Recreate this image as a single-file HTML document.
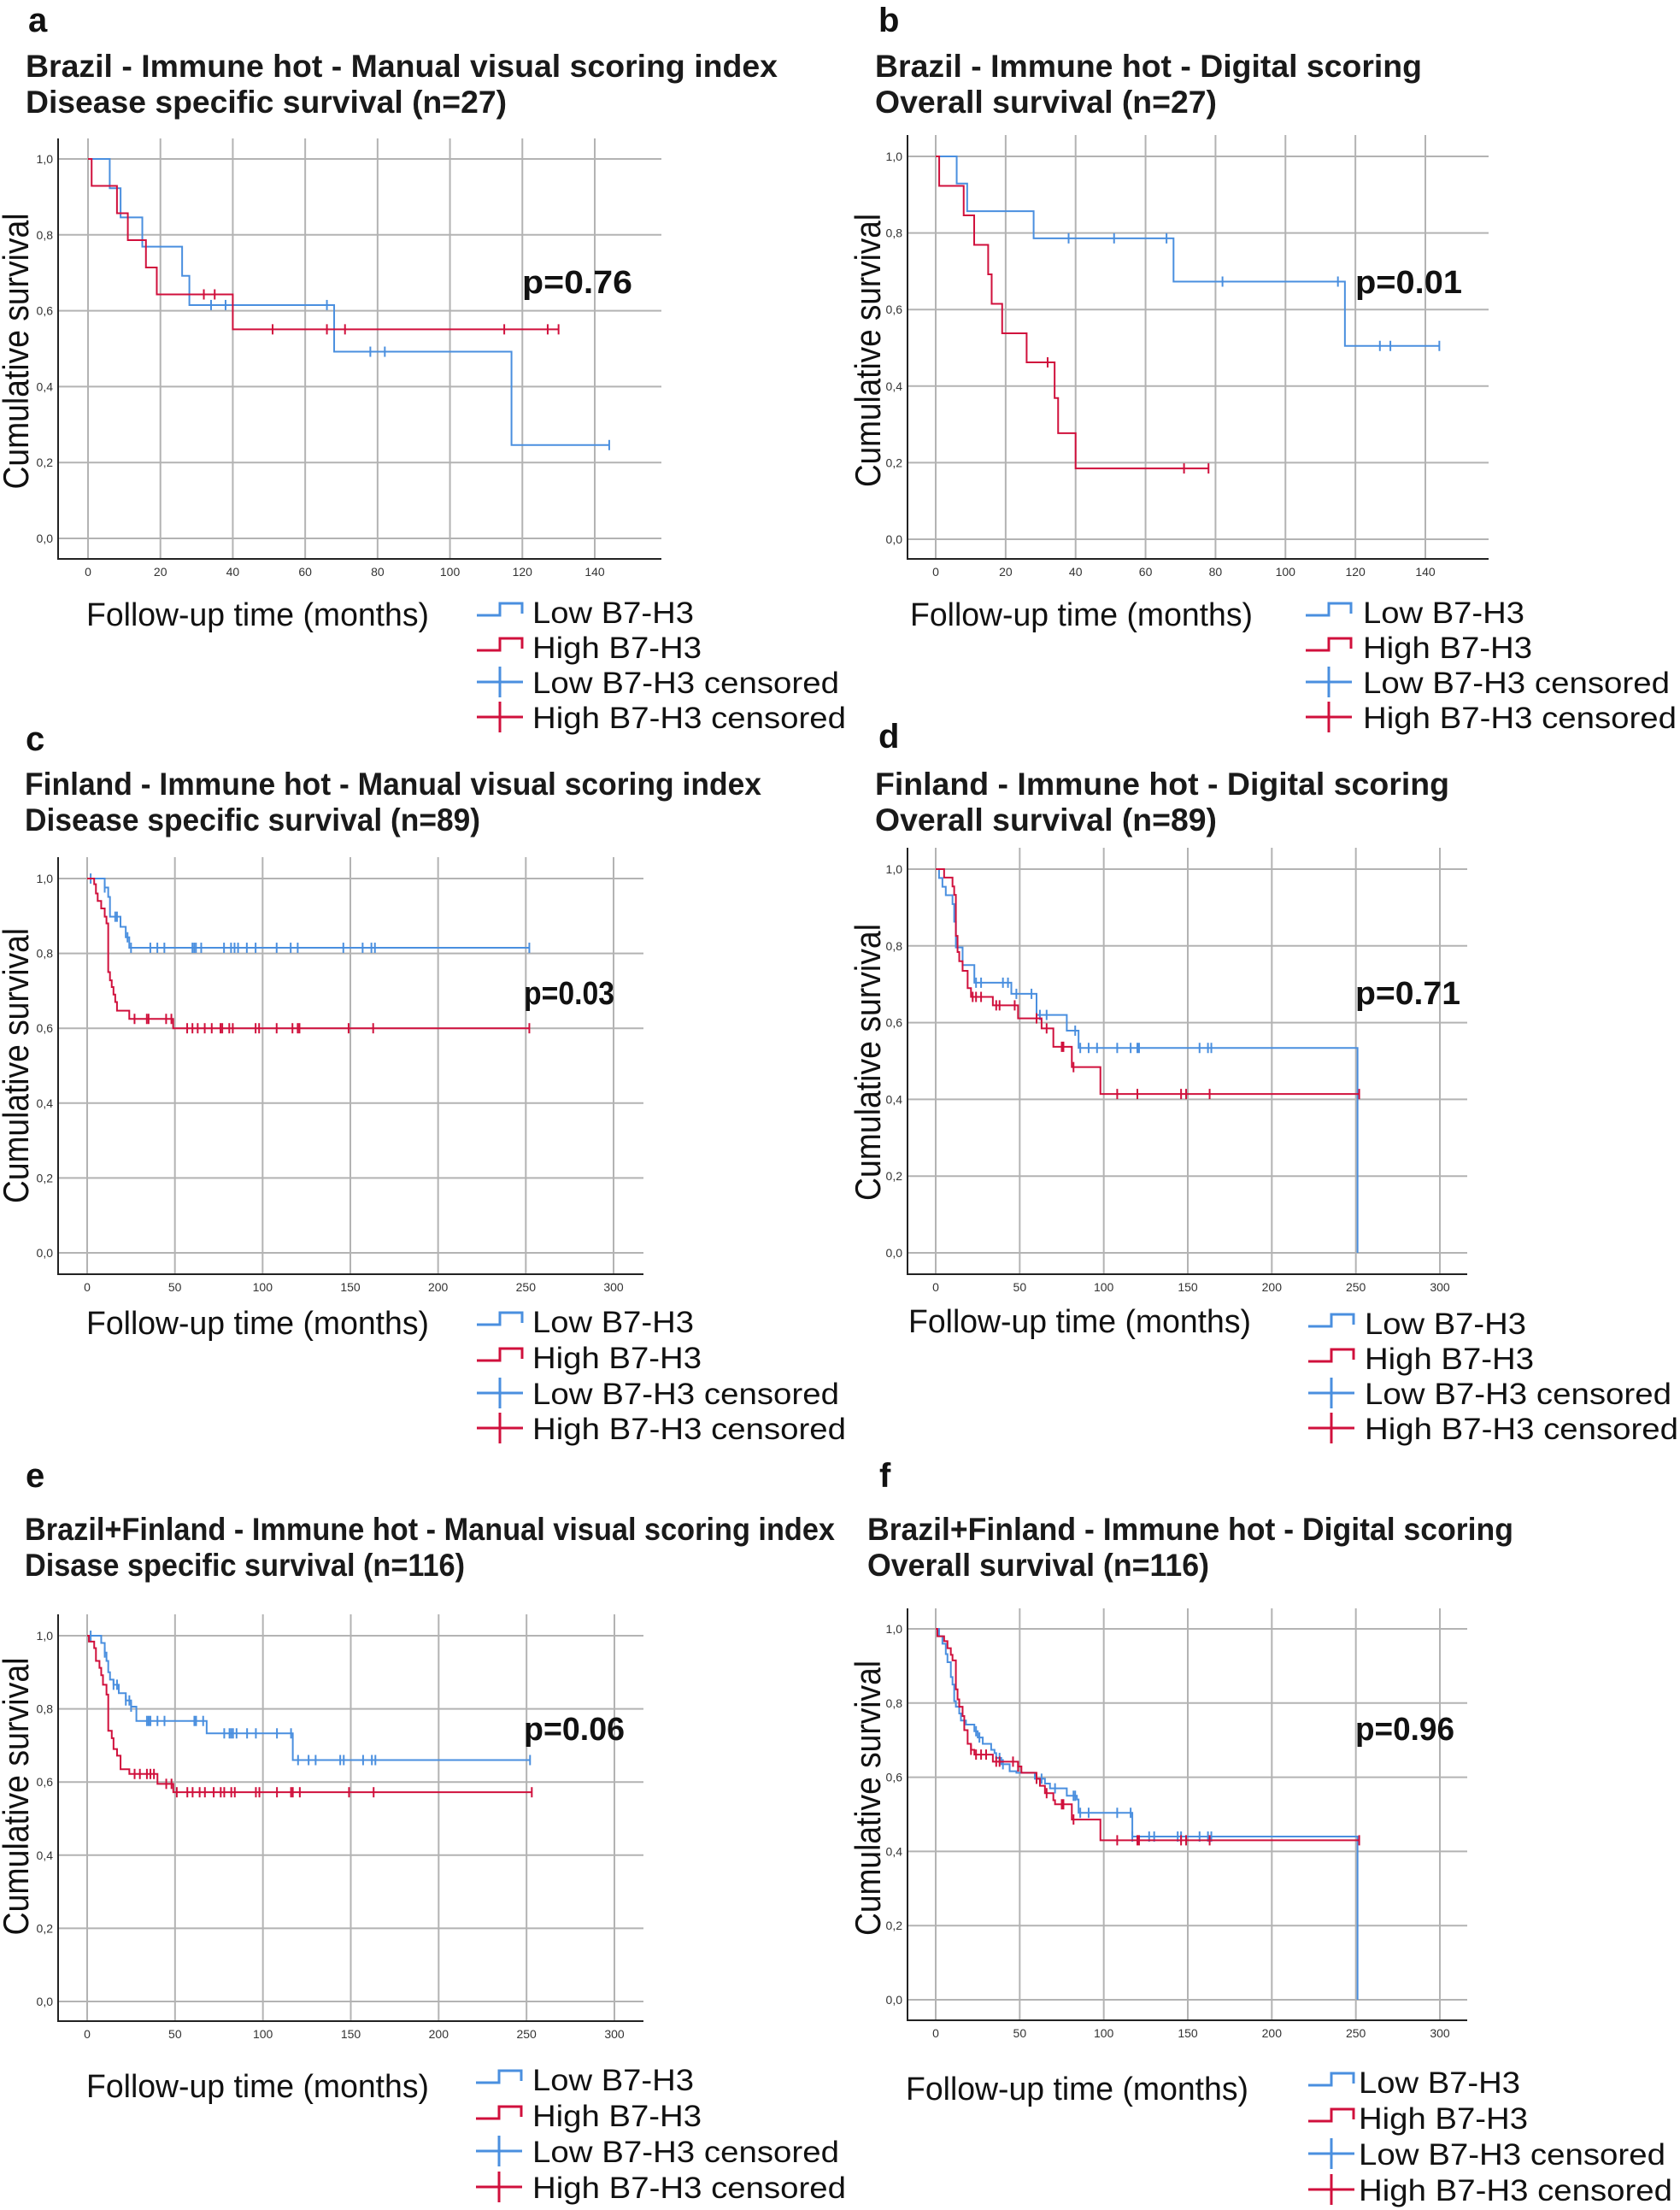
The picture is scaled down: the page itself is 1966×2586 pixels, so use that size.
<!DOCTYPE html>
<html><head><meta charset="utf-8"><style>
html,body{margin:0;padding:0;background:#fff;}
svg{display:block;}
text{font-family:"Liberation Sans",sans-serif;}
</style></head>
<body>
<svg id="root" width="1966" height="2586" viewBox="0 0 1966 2586" xmlns="http://www.w3.org/2000/svg"></svg>
<script>
// ---------- DATA (event times, survival after event, censored times) ----------
// Panel a
const aLowT=[6,9,15,26,28,68,117];
const aLowS=[0.923,0.846,0.769,0.692,0.615,0.492,0.246];
const aLowC=[34,38,66,78,82,144];
const aHighT=[1,8,11,16,19,40];
const aHighS=[0.929,0.857,0.786,0.714,0.643,0.551];
const aHighC=[32,35,51,66,71,115,127,130];
const aP="p=0.76";
// Panel b
const bLowT=[6,9,28,68,117];
const bLowS=[0.929,0.857,0.786,0.673,0.505];
const bLowC=[38,51,66,82,115,127,130,144];
const bHighT=[1,8,11,15,16,19,26,34,35,40];
const bHighS=[0.923,0.846,0.769,0.692,0.615,0.538,0.462,0.369,0.277,0.185];
const bHighC=[32,71,78];
const bP="p=0.01";
// Panel c
const cLowT=[10,12,13,19,22,24];
const cLowS=[0.976,0.951,0.898,0.871,0.843,0.815];
const cLowC=[2,10,16,17,23,25,36,40,44,60,61,62,65,78,82,84,86,91,96,108,116,120,146,157,162,164,252];
const cHighT=[4,5,6,8,10,11,12,13,14,15,16,17,24,49];
const cHighS=[0.985,0.96,0.94,0.92,0.898,0.88,0.75,0.728,0.71,0.69,0.67,0.647,0.625,0.6];
const cHighC=[27,34,35,45,48,57,60,63,67,71,76,77,81,83,96,98,108,117,120,121,149,163,252];
const cP="p=0.03";
// Panel d
const dLowT=[2,4,6,10,11,12,16,23,45,60,78,85,251];
const dLowS=[0.977,0.954,0.932,0.909,0.863,0.796,0.75,0.704,0.675,0.62,0.579,0.534,0];
const dLowC=[24,27,40,43,48,57,62,66,83,86,91,96,108,116,120,121,157,162,164];
const dHighT=[5,10,11,12,13,14,16,19,21,34,49,63,70,81,98];
const dHighS=[0.978,0.955,0.933,0.826,0.784,0.76,0.735,0.69,0.667,0.645,0.611,0.585,0.537,0.484,0.414];
const dHighC=[22,24,27,36,38,47,60,66,75,76,82,108,120,146,149,163,252];
const dP="p=0.71";
// Panel e
const eLowT=[8,10,11,12,13,15,18,22,25,28,68,117];
const eLowS=[0.98,0.954,0.931,0.9,0.88,0.866,0.843,0.823,0.806,0.767,0.733,0.66];
const eLowC=[2,10,15,17,22,24,25,34,35,36,40,44,61,62,66,78,81,82,83,85,91,96,108,116,120,126,130,144,146,157,162,164,252];
const eHighT=[1,4,5,7,8,9,11,12,14,15,17,19,24,40,49];
const eHighS=[0.984,0.966,0.931,0.912,0.892,0.866,0.839,0.74,0.72,0.69,0.672,0.635,0.622,0.595,0.572];
const eHighC=[27,30,34,36,38,45,48,51,57,60,64,67,72,76,78,82,84,96,98,108,116,117,121,149,163,253];
const eP="p=0.06";
// Panel f
const fLowT=[2,4,6,7,9,10,11,12,14,15,18,23,25,28,33,35,36,39,44,48,59,65,68,78,84,85,117,251];
const fLowS=[0.98,0.96,0.932,0.91,0.87,0.85,0.805,0.79,0.772,0.753,0.742,0.724,0.707,0.69,0.674,0.665,0.652,0.635,0.616,0.612,0.596,0.583,0.57,0.55,0.54,0.504,0.44,0];
const fLowC=[24,26,38,40,60,63,71,82,83,86,91,108,116,117,127,130,144,146,157,162,164];
const fHighT=[1,5,7,9,10,12,13,14,16,17,19,21,23,34,49,51,60,62,65,70,71,81,98];
const fHighS=[0.98,0.967,0.948,0.93,0.915,0.837,0.81,0.79,0.765,0.727,0.69,0.674,0.661,0.642,0.629,0.612,0.596,0.577,0.557,0.538,0.527,0.486,0.43];
const fHighC=[21,24,27,30,36,38,46,49,60,66,75,76,82,108,120,121,146,149,163,252];
const fP="p=0.96";

const xTicks140=[0,20,40,60,80,100,120,140];
const xTicks300=[0,50,100,150,200,250,300];
const yTicks=[0,0.2,0.4,0.6,0.8,1.0];
const yTickLabels=["0,0","0,2","0,4","0,6","0,8","1,0"];

const NS="http://www.w3.org/2000/svg";
const root=document.getElementById('root');
const BLUE="#4a8fdf", RED="#d0103c", GRID="#b3b3b3";

function mk(tag,attrs,parent){const e=document.createElementNS(NS,tag);for(const k in attrs)e.setAttribute(k,attrs[k]);(parent||root).appendChild(e);return e;}

const panels=[
 {id:"a",low:[aLowT,aLowS,aLowC],high:[aHighT,aHighS,aHighC],p:aP,ticks:xTicks140,xmax:140,
  label:[33,37],title:["Brazil - Immune hot - Manual visual scoring index","Disease specific survival (n=27)"],tx:30,tb:[90,132],tw:[880,563],
  fl:68,top:162,y1:186,y0:630,ab:654,x0:103,xs:(696-103)/140,right:774,
  yt:[33,411,323],pp:[611,343,129],fo:[101,732,401],lg:[558,623,[716,757,798,839]]},
 {id:"b",low:[bLowT,bLowS,bLowC],high:[bHighT,bHighS,bHighC],p:bP,ticks:xTicks140,xmax:140,
  label:[1028,37],title:["Brazil - Immune hot - Digital scoring","Overall survival (n=27)"],tx:1024,tb:[90,132],tw:[640,400],
  fl:1062,top:158,y1:183,y0:631,ab:654,x0:1095,xs:(1668-1095)/140,right:1742,
  yt:[1030,410,320],pp:[1586,343,125],fo:[1065,732,401],lg:[1528,1595,[716,757,798,839]]},
 {id:"c",low:[cLowT,cLowS,cLowC],high:[cHighT,cHighS,cHighC],p:cP,ticks:xTicks300,xmax:300,
  label:[30,878],title:["Finland - Immune hot - Manual visual scoring index","Disease specific survival (n=89)"],tx:29,tb:[930,972],tw:[862,533],
  fl:68,top:1003,y1:1028,y0:1466,ab:1491,x0:102,xs:(718-102)/300,right:753,
  yt:[33,1247,322],pp:[613,1175,106],fo:[101,1561,401],lg:[558,623,[1546,1588,1630,1671]]},
 {id:"d",low:[dLowT,dLowS,dLowC],high:[dHighT,dHighS,dHighC],p:dP,ticks:xTicks300,xmax:300,
  label:[1028,875],title:["Finland - Immune hot - Digital scoring","Overall survival (n=89)"],tx:1024,tb:[930,972],tw:[672,400],
  fl:1062,top:992,y1:1017,y0:1466,ab:1491,x0:1095,xs:(1685-1095)/300,right:1717,
  yt:[1030,1243,324],pp:[1586,1175,123],fo:[1063,1559,401],lg:[1531,1597,[1548,1589,1630,1671]]},
 {id:"e",low:[eLowT,eLowS,eLowC],high:[eHighT,eHighS,eHighC],p:eP,ticks:xTicks300,xmax:300,
  label:[30,1740],title:["Brazil+Finland - Immune hot - Manual visual scoring index","Disase specific survival (n=116)"],tx:29,tb:[1802,1844],tw:[948,515],
  fl:68,top:1889,y1:1914,y0:2342,ab:2365,x0:102,xs:(719-102)/300,right:753,
  yt:[33,2102,325],pp:[613,2036,118],fo:[101,2454,401],lg:[557,623,[2433,2475,2517,2559]]},
 {id:"f",low:[fLowT,fLowS,fLowC],high:[fHighT,fHighS,fHighC],p:fP,ticks:xTicks300,xmax:300,
  label:[1029,1740],title:["Brazil+Finland - Immune hot - Digital scoring","Overall survival (n=116)"],tx:1015,tb:[1802,1844],tw:[756,400],
  fl:1062,top:1882,y1:1906,y0:2340,ab:2364,x0:1095,xs:(1685-1095)/300,right:1717,
  yt:[1030,2104,322],pp:[1586,2036,116],fo:[1060,2457,401],lg:[1531,1590,[2436,2478,2520,2562]]}
];

function survAt(T,S,t){let s=1;for(let i=0;i<T.length;i++){if(T[i]<=t)s=S[i];}return s;}

panels.forEach(P=>{
  const g=mk('g',{});
  
  
  const X=t=>P.x0+t*P.xs;
  const Y=v=>P.y0-(P.y0-P.y1)*v;
  // panel letter
  const lt=mk('text',{x:P.label[0],y:P.label[1],'font-size':40,'font-weight':'bold',fill:'#111'},g);
  lt.textContent=P.id;
  
  
  // titles
  P.title.forEach((s,i)=>{
    const t=mk('text',{x:P.tx,y:P.tb[i],'font-size':37,'font-weight':'bold',fill:'#1a1a1a',textLength:P.tw[i],lengthAdjust:'spacingAndGlyphs'},g);
    t.textContent=s;
    
    
  });
  // grid
  yTicks.forEach((v,i)=>{
    const l=mk('line',{x1:P.fl,x2:P.right,y1:Y(v),y2:Y(v),stroke:GRID,'stroke-width':2},g);
    
    
    const t=mk('text',{x:P.fl-6,y:Y(v)+5,'font-size':14,fill:'#333','text-anchor':'end'},g);
    t.textContent=yTickLabels[i];
    
    
  });
  P.ticks.forEach(v=>{
    const l=mk('line',{x1:X(v),x2:X(v),y1:P.top,y2:P.ab,stroke:GRID,'stroke-width':2},g);
    
    
    const t=mk('text',{x:X(v),y:P.ab+20,'font-size':14,fill:'#333','text-anchor':'middle'},g);
    t.textContent=String(v);
    
    
  });
  // axes
  const ax=mk('path',{d:`M${P.fl},${P.top} V${P.ab} H${P.right}`,fill:'none',stroke:'#222','stroke-width':2},g);
  
  
  // curves
  [[P.low,BLUE,'low'],[P.high,RED,'high']].forEach(([D,col,nm])=>{
    const [T,S,C]=D;
    const end=Math.max(T.length?T[T.length-1]:0,C.length?C[C.length-1]:0);
    let d=`M${X(0)},${Y(1)}`;let s=1;
    for(let i=0;i<T.length;i++){d+=` H${X(T[i])} V${Y(S[i])}`;s=S[i];}
    if(end>(T.length?T[T.length-1]:0))d+=` H${X(end)}`;
    const p=mk('path',{d:d,fill:'none',stroke:col,'stroke-width':2},g);
    
    
    C.forEach(c=>{
      const v=survAt(T,S,c);
      const m=mk('line',{x1:X(c),x2:X(c),y1:Y(v)-6,y2:Y(v)+6,stroke:col,'stroke-width':2},g);
      
      
    });
  });
  // y title
  const yt=mk('text',{x:0,y:0,'font-size':42,fill:'#111','text-anchor':'middle',textLength:P.yt[2],lengthAdjust:'spacingAndGlyphs',transform:`translate(${P.yt[0]},${P.yt[1]}) rotate(-90)`},g);
  yt.textContent="Cumulative survival";
  
  
  // p value
  const pv=mk('text',{x:P.pp[0],y:P.pp[1],'font-size':38,'font-weight':'bold',fill:'#111',textLength:P.pp[2],lengthAdjust:'spacingAndGlyphs'},g);
  pv.textContent=P.p;
  
  
  // x title
  const xt=mk('text',{x:P.fo[0],y:P.fo[1],'font-size':38,fill:'#111',textLength:P.fo[2],lengthAdjust:'spacingAndGlyphs'},g);
  xt.textContent="Follow-up time (months)";
  
  
  // legend
  const names=["Low B7-H3","High B7-H3","Low B7-H3 censored","High B7-H3 censored"];
  const lens=[189,198,359,367];
  const cols=[BLUE,RED,BLUE,RED];
  const ix=P.lg[0];
  P.lg[2].forEach((cy,i)=>{
    const lg=mk('g',{},g);
    
    
    if(i<2){
      mk('path',{d:`M${ix},${cy+4} H${ix+27} V${cy-10} H${ix+53} V${cy+2}`,fill:'none',stroke:cols[i],'stroke-width':3},lg);
    }else{
      mk('line',{x1:ix,x2:ix+54,y1:cy,y2:cy,stroke:cols[i],'stroke-width':3},lg);
      mk('line',{x1:ix+27,x2:ix+27,y1:cy-18,y2:cy+18,stroke:cols[i],'stroke-width':3},lg);
    }
    const t=mk('text',{x:P.lg[1],y:cy+13,'font-size':35,fill:'#111',textLength:lens[i],lengthAdjust:'spacingAndGlyphs'},lg);
    t.textContent=names[i];
  });
});
</script>
</body></html>
